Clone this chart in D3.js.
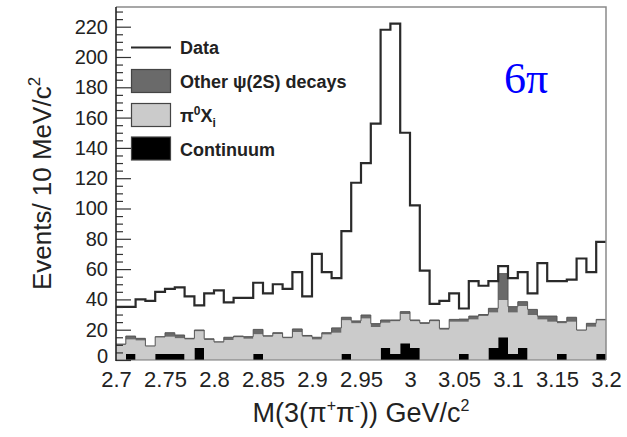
<!DOCTYPE html>
<html>
<head>
<meta charset="utf-8">
<script src="https://cdn.jsdelivr.net/npm/d3@7"></script>
<style>
    body { margin: 0; background: #fff; }
    svg { display: block; font-family: "Liberation Sans", Arial, sans-serif; }
</style>
</head>
<body>
<div id="chart"></div>
<script>

// bins: 10 MeV wide, starting at 2.70 GeV
const binStart = 2.70;
const binWidth = 0.01;

// data events per bin
const dataCounts = [35, 35, 40, 39, 45, 47, 48, 42, 36, 44,
                    46, 38, 41, 41, 51, 44, 50, 47, 58, 42,
                    70, 58, 54, 85, 117, 130, 156, 218, 222, 150,
                    102, 59, 37, 39, 44, 34, 52, 49, 52, 62,
                    54, 58, 44, 64, 52, 52, 53, 67, 58, 78];

// backgrounds (stacked: continuum, pi0 X_i, other psi(2S))
const continuum = [0, 4, 0, 0, 4, 4, 4, 0, 8, 0,
                   0, 0, 0, 0, 4, 0, 0, 0, 0, 0,
                   0, 0, 0, 4, 0, 0, 0, 8, 4, 11,
                   8, 0, 0, 0, 0, 4, 0, 0, 8, 15,
                   4, 8, 0, 0, 0, 4, 0, 0, 0, 4];

const pi0Xi = [10, 9.6, 12.8, 9, 10.8, 11.4, 10.3, 13.5, 11, 13.2,
               11.5, 13.2, 15, 14, 13, 15.4, 17.2, 14.3, 18.5, 15.4,
               13.6, 16.8, 18, 22.2, 24.2, 27.4, 21.7, 16.6, 21.5, 19.4,
               17.5, 23.8, 25.5, 20, 25.3, 21.3, 26.8, 29, 23.3, 24.6,
               27.3, 27.6, 29.7, 26.8, 25.3, 20.2, 25.3, 19.4, 22, 22];

const otherPsi = [0.5, 2.2, 1.5, 0.3, 0.6, 2.6, 2.2, 0.8, 0.8, 0.8,
                  0.5, 1.8, 0.8, 1.4, 3.2, 0.6, 0.8, 0.7, 2, 0.8,
                  1.4, 1.2, 3.2, 2, 1.6, 2.3, 2.3, 1.8, 0.9, 1.5,
                  0.9, 0.8, 0.9, 0.9, 1.5, 1.7, 2.2, 1, 2.8, 17.4,
                  3.9, 2.9, 3.7, 2.2, 3.7, 1.1, 2.9, 0.4, 2.2, 0.8];

const xTicks = [2.7, 2.75, 2.8, 2.85, 2.9, 2.95, 3, 3.05, 3.1, 3.15, 3.2];
const yTicks = [0, 20, 40, 60, 80, 100, 120, 140, 160, 180, 200, 220];


class HistVis {

    constructor(parentElement) {
        this.parentElement = parentElement;
        this.initVis();
    }

    initVis() {
        let vis = this;

        vis.width = 627;
        vis.height = 437;
        vis.plot = {left: 116, right: 606, top: 7, bottom: 360};

        vis.svg = d3.select("#" + vis.parentElement).append("svg")
            .attr("width", vis.width)
            .attr("height", vis.height);

        vis.x = d3.scaleLinear().domain([2.7, 3.2]).range([vis.plot.left, vis.plot.right]);
        vis.y = d3.scaleLinear().domain([0, 233]).range([vis.plot.bottom, vis.plot.top]);

        // one row per bin, last edge repeated so the step reaches the right border
        vis.rows = dataCounts.map((d, i) => ({
            lo: binStart + i * binWidth,
            data: d,
            continuum: continuum[i],
            pi0: pi0Xi[i],
            other: otherPsi[i]
        }));
        let last = Object.assign({}, vis.rows[vis.rows.length - 1]);
        last.lo = binStart + dataCounts.length * binWidth;
        vis.rows.push(last);

        vis.wrangleData();
    }

    wrangleData() {
        let vis = this;
        vis.stacked = d3.stack().keys(["continuum", "pi0", "other"])(vis.rows);
        vis.updateVis();
    }

    updateVis() {
        let vis = this;
        let x = vis.x, y = vis.y;

        let area = d3.area()
            .curve(d3.curveStepAfter)
            .x(d => x(d.data.lo))
            .y0(d => y(d[0]))
            .y1(d => y(d[1]));

        let fills = {continuum: "#000000", pi0: "#cbcbcb", other: "#6a6a6a"};

        vis.svg.append("g")
            .selectAll("path")
            .data(vis.stacked)
            .enter().append("path")
            .attr("d", area)
            .attr("fill", d => fills[d.key]);

        // outline of the stacked top
        let top = vis.stacked[2];
        vis.svg.append("path")
            .attr("d", d3.line().curve(d3.curveStepAfter)
                .x(d => x(d.data.lo)).y(d => y(d[1]))(top))
            .attr("fill", "none")
            .attr("stroke", "#555")
            .attr("stroke-width", 1);

        // data histogram
        vis.svg.append("path")
            .attr("d", d3.line().curve(d3.curveStepAfter)
                .x(d => x(d.lo)).y(d => y(d.data))(vis.rows))
            .attr("fill", "none")
            .attr("stroke", "#2a2a2a")
            .attr("stroke-width", 2.2);

        // frame
        vis.svg.append("path")
            .attr("d", `M${vis.plot.left},${vis.plot.top}H${vis.plot.right}V${vis.plot.bottom}`)
            .attr("fill", "none")
            .attr("stroke", "#8a8a8a")
            .attr("stroke-width", 1.5);
        vis.svg.append("line")
            .attr("x1", vis.plot.left).attr("x2", vis.plot.right)
            .attr("y1", vis.plot.bottom).attr("y2", vis.plot.bottom)
            .attr("stroke", "#777").attr("stroke-width", 1.2);

        // y axis, ticks pointing inward
        let yMinor = d3.range(0, 233, 5).filter(v => v % 20 !== 0);
        vis.svg.append("g")
            .attr("transform", `translate(${vis.plot.left},0)`)
            .call(d3.axisLeft(y).tickValues(yMinor).tickSize(-7).tickFormat(""))
            .call(g => g.select(".domain").remove())
            .selectAll("line").attr("stroke", "#333").attr("stroke-width", 1.2);

        vis.yAxis = vis.svg.append("g")
            .attr("transform", `translate(${vis.plot.left},0)`)
            .call(d3.axisLeft(y).tickValues(yTicks).tickSize(-15).tickPadding(8))
            .call(g => g.select(".domain").remove());
        vis.yAxis.selectAll("line").attr("stroke", "#333").attr("stroke-width", 1.2);
        vis.yAxis.selectAll("text")
            .style("font-size", "20px")
            .style("font-family", "Liberation Sans, Arial, sans-serif")
            .attr("fill", "#222");
        // the zero label sits a bit higher, just clear of the x labels
        vis.yAxis.selectAll("text").filter(d => d === 0).attr("dy", "0.1em");

        vis.svg.append("line")
            .attr("x1", vis.plot.left).attr("x2", vis.plot.left)
            .attr("y1", vis.plot.top).attr("y2", vis.plot.bottom + 1)
            .attr("stroke", "#222").attr("stroke-width", 1.6);

        // x axis labels
        vis.xAxis = vis.svg.append("g")
            .attr("transform", `translate(0,${vis.plot.bottom})`)
            .call(d3.axisBottom(x).tickValues(xTicks).tickSize(0).tickPadding(11).tickFormat(d => String(d)))
            .call(g => g.select(".domain").remove());
        vis.xAxis.selectAll("text")
            .style("font-size", "22px")
            .style("font-family", "Liberation Sans, Arial, sans-serif")
            .attr("fill", "#222");

        // axis titles
        let yTitle = vis.svg.append("text")
            .attr("transform", `translate(51,${(vis.plot.top + vis.plot.bottom) / 2}) rotate(-90)`)
            .attr("text-anchor", "middle")
            .style("font-size", "26px")
            .attr("fill", "#222");
        yTitle.append("tspan").text("Events/ 10 MeV/c");
        yTitle.append("tspan").attr("dy", -11).style("font-size", "17px").text("2");

        let xTitle = vis.svg.append("text")
            .attr("x", (vis.plot.left + vis.plot.right) / 2)
            .attr("y", 422)
            .attr("text-anchor", "middle")
            .style("font-size", "27px")
            .attr("fill", "#222");
        xTitle.append("tspan").text("M(3(π");
        xTitle.append("tspan").attr("dy", -11).style("font-size", "16px").text("+");
        xTitle.append("tspan").attr("dy", 11).text("π");
        xTitle.append("tspan").attr("dy", -11).style("font-size", "16px").text("-");
        xTitle.append("tspan").attr("dy", 11).text(")) GeV/c");
        xTitle.append("tspan").attr("dy", -11).style("font-size", "16px").text("2");

        // legend
        let legend = vis.svg.append("g").attr("transform", "translate(131,0)");
        legend.append("line")
            .attr("x1", 0).attr("x2", 40).attr("y1", 47.5).attr("y2", 47.5)
            .attr("stroke", "#2a2a2a").attr("stroke-width", 2);

        let boxes = [
            {y: 69.5, fill: "#6a6a6a"},
            {y: 103.5, fill: "#cbcbcb"},
            {y: 137, fill: "#000000"}
        ];
        legend.selectAll(".legendBox")
            .data(boxes)
            .enter().append("rect")
            .attr("class", "legendBox")
            .attr("x", 0.5).attr("y", d => d.y)
            .attr("width", 39).attr("height", 23)
            .attr("fill", d => d.fill)
            .attr("stroke", "#444").attr("stroke-width", 1.2);

        let legendText = legend.append("g")
            .style("font-size", "18px")
            .style("font-weight", "bold")
            .attr("fill", "#222");
        legendText.append("text").attr("x", 49).attr("y", 54).text("Data");
        legendText.append("text").attr("x", 49).attr("y", 88).text("Other ψ(2S) decays");
        let pt = legendText.append("text").attr("x", 49).attr("y", 122);
        pt.append("tspan").text("π");
        pt.append("tspan").attr("dy", -7).style("font-size", "12px").text("0");
        pt.append("tspan").attr("dy", 7).text("X");
        pt.append("tspan").attr("dy", 5).style("font-size", "12px").text("i");
        legendText.append("text").attr("x", 49).attr("y", 156).text("Continuum");

        // channel label
        vis.svg.append("text")
            .attr("x", 504).attr("y", 93)
            .style("font-family", "Liberation Serif, Times New Roman, serif")
            .style("font-size", "44px")
            .attr("fill", "#0000ff")
            .text("6π");
    }
}

new HistVis("chart");

</script>
</body>
</html>
